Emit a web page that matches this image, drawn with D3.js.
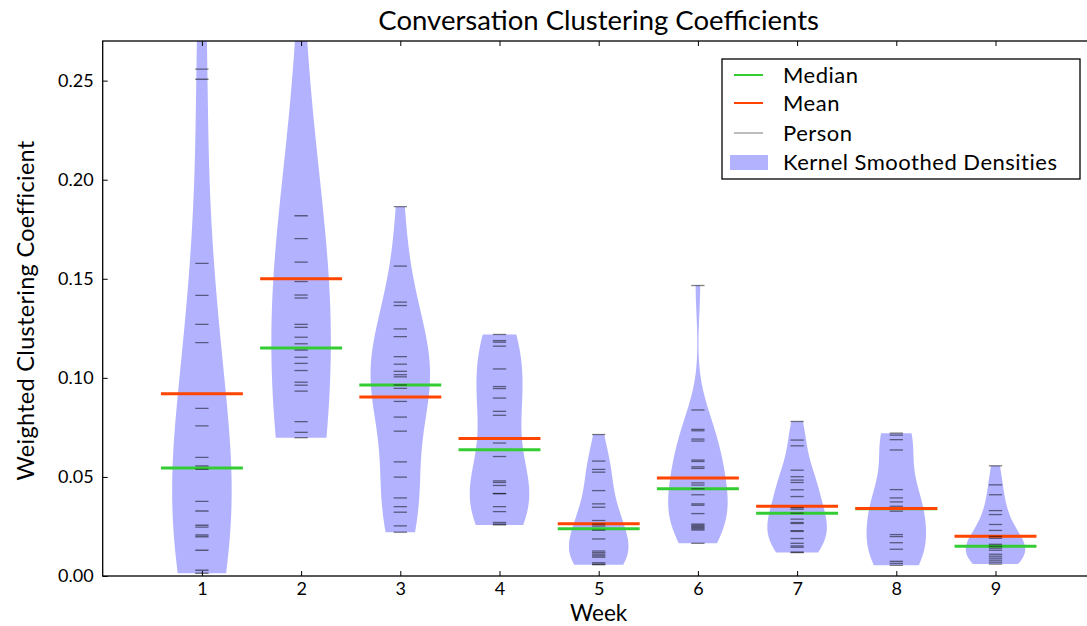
<!DOCTYPE html>
<html>
<head>
<meta charset="utf-8">
<script src="https://cdn.jsdelivr.net/npm/d3@7"></script>
<style>
  html, body { margin: 0; padding: 0; background: #fff; }
  svg { display: block; font-family: "Lato", "DejaVu Sans", sans-serif; }
</style>
</head>
<body>
<svg id="chart" width="1087" height="626"></svg>
<script>
// Weekly clustering coefficients, one value per person
const weeks = [1, 2, 3, 4, 5, 6, 7, 8, 9];
const week1 = [0.373, 0.2558, 0.2507, 0.1578, 0.1416, 0.1270, 0.1178, 0.0846, 0.0758, 0.0599, 0.0556, 0.0538, 0.0377, 0.0328, 0.0256, 0.0247, 0.0207, 0.0198, 0.0130, 0.0029, 0.0014];
const week2 = [0.776, 0.1818, 0.1703, 0.1584, 0.1486, 0.1418, 0.1403, 0.1270, 0.1255, 0.1205, 0.1172, 0.1140, 0.1104, 0.1073, 0.1037, 0.0978, 0.0963, 0.0933, 0.0779, 0.0725, 0.0698];
const week3 = [0.1864, 0.1564, 0.1382, 0.1365, 0.1247, 0.1208, 0.1107, 0.1069, 0.1033, 0.1016, 0.1005, 0.0964, 0.0947, 0.0881, 0.0802, 0.0731, 0.0576, 0.0499, 0.0394, 0.0350, 0.0322, 0.0253, 0.0221];
const week4 = [0.1219, 0.1188, 0.1180, 0.1160, 0.1045, 0.0956, 0.0946, 0.0898, 0.0831, 0.0811, 0.0671, 0.0603, 0.0480, 0.0472, 0.0457, 0.0416, 0.0416, 0.0350, 0.0325, 0.0270, 0.0262, 0.0258];
const week5 = [0.0714, 0.0580, 0.0538, 0.0524, 0.0431, 0.0364, 0.0347, 0.0280, 0.0262, 0.0252, 0.0231, 0.0187, 0.0126, 0.0118, 0.0110, 0.0102, 0.0095, 0.0067, 0.0060, 0.0057];
const week6 = [0.1466, 0.0838, 0.0740, 0.0733, 0.0691, 0.0681, 0.0585, 0.0578, 0.0551, 0.0543, 0.0470, 0.0459, 0.0440, 0.0410, 0.0364, 0.0357, 0.0315, 0.0262, 0.0256, 0.0250, 0.0244, 0.0238, 0.0232, 0.0165];
const week7 = [0.0780, 0.0686, 0.0657, 0.0534, 0.0501, 0.0484, 0.0472, 0.0435, 0.0401, 0.0345, 0.0337, 0.0317, 0.0287, 0.0270, 0.0265, 0.0229, 0.0225, 0.0189, 0.0165, 0.0152, 0.0145, 0.0121, 0.0118];
const week8 = [0.0721, 0.0711, 0.0688, 0.0636, 0.0436, 0.0394, 0.0374, 0.0352, 0.0327, 0.0209, 0.0199, 0.0168, 0.0135, 0.0074, 0.0064, 0.0054];
const week9 = [0.0556, 0.0460, 0.0410, 0.0330, 0.0310, 0.0260, 0.0230, 0.0200, 0.0190, 0.0160, 0.0150, 0.0140, 0.0130, 0.0110, 0.0100, 0.0090, 0.0080, 0.0070, 0.0060];

const medians = [0.0545, 0.1151, 0.0964, 0.0637, 0.0239, 0.0440, 0.0317, 0.0340, 0.0150];
const means   = [0.0920, 0.1500, 0.0903, 0.0694, 0.0264, 0.0494, 0.0352, 0.0341, 0.0200];

const yTicks = [0.00, 0.05, 0.10, 0.15, 0.20, 0.25];
const legendLabels = ["Median", "Mean", "Person", "Kernel Smoothed Densities"];

const groups = [week1, week2, week3, week4, week5, week6, week7, week8, week9];

// Layout
const svg = d3.select("#chart");
const plotL = 102.7, plotR = 1094.7, plotT = 41, plotB = 576;

const x = d3.scaleLinear().domain([0, 10]).range([plotL, plotR]);
const y = d3.scaleLinear().domain([0, 0.27]).range([plotB, plotT]);

const violinHalf = 0.3;   // max half-width of each density, in week units
const statHalf = 0.413;   // half-length of median / mean bars
const personHalf = 0.067; // half-length of per-person marks

const colMedian = "#33cc33";
const colMean = "#ff4500";

svg.append("defs").append("clipPath").attr("id", "plotClip")
  .append("rect").attr("x", plotL).attr("y", plotT)
  .attr("width", plotR - plotL).attr("height", plotB - plotT);

const plot = svg.append("g").attr("clip-path", "url(#plotClip)");

// Gaussian kernel density estimate with Scott's bandwidth
function kde(values, n) {
  const sd = d3.deviation(values);
  const bw = sd * Math.pow(values.length, -1 / 5);
  const lo = d3.min(values), hi = d3.max(values);
  const pts = d3.range(n + 1).map(i => lo + (hi - lo) * i / n);
  return pts.map(p => {
    let s = 0;
    for (const v of values) {
      const z = (p - v) / bw;
      s += Math.exp(-0.5 * z * z);
    }
    return [p, s];
  });
}

weeks.forEach((wk, i) => {
  const dens = kde(groups[i], 200);
  const peak = d3.max(dens, d => d[1]);
  const area = d3.area()
    .y(d => y(d[0]))
    .x0(d => x(wk - violinHalf * d[1] / peak))
    .x1(d => x(wk + violinHalf * d[1] / peak));
  plot.append("path")
    .datum(dens)
    .attr("d", area)
    .attr("fill", "blue")
    .attr("fill-opacity", 0.3)
    .attr("stroke", "none");
});

// Median and mean bars
weeks.forEach((wk, i) => {
  plot.append("line")
    .attr("x1", x(wk - statHalf)).attr("x2", x(wk + statHalf))
    .attr("y1", y(medians[i])).attr("y2", y(medians[i]))
    .attr("stroke", colMedian).attr("stroke-width", 3);
  plot.append("line")
    .attr("x1", x(wk - statHalf)).attr("x2", x(wk + statHalf))
    .attr("y1", y(means[i])).attr("y2", y(means[i]))
    .attr("stroke", colMean).attr("stroke-width", 3);
});

// One short mark per person
weeks.forEach((wk, i) => {
  plot.append("g").selectAll("line")
    .data(groups[i])
    .join("line")
    .attr("x1", x(wk - personHalf)).attr("x2", x(wk + personHalf))
    .attr("y1", d => y(d)).attr("y2", d => y(d))
    .attr("stroke", "black").attr("stroke-opacity", 0.5)
    .attr("stroke-width", 1.3);
});

// Axes with inward ticks on all sides
const tickFont = "18px";
const gy = svg.append("g").attr("transform", `translate(${plotL},0)`)
  .call(d3.axisLeft(y).tickValues(yTicks).tickFormat(d3.format(".2f"))
    .tickSizeInner(-5).tickSizeOuter(0).tickPadding(9));
const gyr = svg.append("g").attr("transform", `translate(${plotR},0)`)
  .call(d3.axisRight(y).tickValues(yTicks).tickFormat("")
    .tickSizeInner(-5).tickSizeOuter(0));
const gx = svg.append("g").attr("transform", `translate(0,${plotB})`)
  .call(d3.axisBottom(x).tickValues(weeks).tickFormat(d3.format("d"))
    .tickSizeInner(-5).tickSizeOuter(0).tickPadding(6));
const gxt = svg.append("g").attr("transform", `translate(0,${plotT})`)
  .call(d3.axisTop(x).tickValues(weeks).tickFormat("")
    .tickSizeInner(-5).tickSizeOuter(0));

[gy, gyr, gx, gxt].forEach(g => {
  g.select(".domain").remove();
  g.selectAll(".tick line").attr("stroke", "#000").attr("stroke-width", 1);
  g.selectAll(".tick text").attr("font-size", tickFont)
    .attr("font-family", "Lato, sans-serif").attr("fill", "#000");
});

// Frame
svg.append("rect")
  .attr("x", plotL).attr("y", plotT)
  .attr("width", plotR - plotL).attr("height", plotB - plotT)
  .attr("fill", "none").attr("stroke", "#000").attr("stroke-width", 1.3);

// Titles
svg.append("text")
  .attr("x", (plotL + plotR) / 2).attr("y", 30)
  .attr("text-anchor", "middle").attr("font-size", 27.5)
  .text("Conversation Clustering Coefficients");
svg.append("text")
  .attr("x", (plotL + plotR) / 2).attr("y", 621)
  .attr("text-anchor", "middle").attr("font-size", 22.5)
  .text("Week");
svg.append("text")
  .attr("transform", `translate(34,${(plotT + plotB) / 2 + 2}) rotate(-90)`)
  .attr("text-anchor", "middle").attr("font-size", 23.5)
  .attr("letter-spacing", 0.3)
  .text("Weighted Clustering Coefficient");

// Legend
const lg = svg.append("g");
const lgX = 722, lgY = 59, lgW = 358, lgH = 120;
lg.append("rect").attr("x", lgX).attr("y", lgY).attr("width", lgW).attr("height", lgH)
  .attr("fill", "#fff").attr("stroke", "#000").attr("stroke-width", 1.3);
const rowY = [75, 103, 133, 162];
lg.append("line").attr("x1", 734).attr("x2", 763).attr("y1", rowY[0]).attr("y2", rowY[0])
  .attr("stroke", colMedian).attr("stroke-width", 2);
lg.append("line").attr("x1", 734).attr("x2", 763).attr("y1", rowY[1]).attr("y2", rowY[1])
  .attr("stroke", colMean).attr("stroke-width", 2);
lg.append("line").attr("x1", 734).attr("x2", 763).attr("y1", rowY[2]).attr("y2", rowY[2])
  .attr("stroke", "black").attr("stroke-opacity", 0.4).attr("stroke-width", 1.3);
lg.append("rect").attr("x", 730).attr("y", rowY[3] - 7).attr("width", 38).attr("height", 15)
  .attr("fill", "blue").attr("fill-opacity", 0.3);
legendLabels.forEach((t, i) => {
  lg.append("text").attr("x", 783).attr("y", rowY[i]).attr("dy", "0.35em")
    .attr("font-size", 22).attr("letter-spacing", 0.5).text(t);
});
</script>
</body>
</html>
